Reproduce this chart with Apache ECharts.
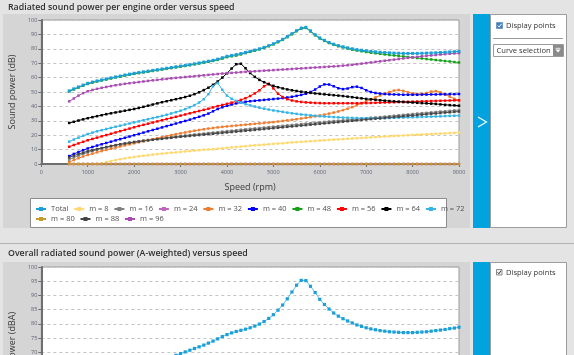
<!DOCTYPE html>
<html><head><meta charset="utf-8">
<script src="https://cdn.jsdelivr.net/npm/echarts@6/dist/echarts.min.js"></script>
<style>html,body{margin:0;padding:0;overflow:hidden;background:#e4e4e4;width:574px;height:355px}
#c{width:574px;height:480px}</style></head><body><div id="c"></div><script>
// ---------- data ----------
const chartTitle1 = 'Radiated sound power per engine order versus speed';
const chartTitle2 = 'Overall radiated sound power (A-weighted) versus speed';
const speeds = [600,700,800,900,
1000,1100,1200,1300,1400,1500,1600,1700,1800,1900,
2000,2100,2200,2300,2400,2500,2600,2700,2800,2900,
3000,3100,3200,3300,3400,3500,3600,3700,3800,3900,
4000,4100,4200,4300,4400,4500,4600,4700,4800,4900,
5000,5100,5200,5300,5400,5500,5600,5700,5800,5900,
6000,6100,6200,6300,6400,6500,6600,6700,6800,6900,
7000,7100,7200,7300,7400,7500,7600,7700,7800,7900,
8000,8100,8200,8300,8400,8500,8600,8700,8800,8900,
9000];
const seriesNames = ['Total','m = 8','m = 16','m = 24','m = 32','m = 40','m = 48','m = 56','m = 64','m = 72','m = 80','m = 88','m = 96'];
const total = [50.8,52.2,53.5,54.8,
56,56.9,57.7,58.4,59.1,59.8,60.5,61.1,61.8,62.4,
63,63.5,64,64.5,65,65.5,66,66.5,67,67.5,
68,68.5,69,69.6,70.2,70.8,71.4,72,72.8,73.8,
74.8,75.4,76,76.7,77.5,78.3,79.1,80,81,82.2,
83.5,85,86.6,88.5,90.5,92.6,94.4,94.9,92.5,89.8,
87.6,85.9,84.4,83.2,82.2,81.4,80.7,80,79.4,79,
78.6,78.2,77.9,77.6,77.4,77.2,77,76.9,76.8,76.8,
76.8,76.8,76.9,77,77.1,77.2,77.4,77.6,77.8,78,
78.2];
const m8 = [0,0,0,0,
0,0,0,0.3,1.2,2,2.7,3.3,3.9,4.4,
4.9,5.3,5.7,6.1,6.5,6.9,7.2,7.5,7.8,8.1,
8.4,8.7,9,9.3,9.6,9.9,10.1,10.3,10.6,10.9,
11.2,11.5,11.8,12.1,12.4,12.7,13,13.2,13.4,13.7,
14,14.2,14.4,14.7,15,15.2,15.4,15.6,15.8,16,
16.3,16.5,16.7,16.9,17.1,17.3,17.5,17.7,17.9,18.1,
18.3,18.5,18.7,18.9,19.1,19.3,19.5,19.6,19.8,20,
20.2,20.3,20.5,20.7,20.8,21,21.1,21.3,21.5,21.6,
21.8];
const m16 = [3,4.5,5.8,7,
8,9,9.9,10.7,11.5,12.2,12.9,13.6,14.2,14.8,
15.3,15.8,16.3,16.7,17.1,17.5,17.9,18.3,18.7,19.1,
19.4,19.8,20.1,20.5,20.8,21.1,21.5,21.8,22.1,22.5,
22.8,23.1,23.4,23.8,24.1,24.4,24.7,25,25.3,25.6,
25.9,26.2,26.5,26.8,27.1,27.4,27.7,28,28.3,28.6,
28.9,29.2,29.5,29.8,30,30.3,30.6,30.9,31.2,31.5,
31.8,32.1,32.3,32.6,32.9,33.2,33.5,33.8,34.1,34.4,
34.7,35,35.3,35.5,35.8,36.1,36.4,36.6,36.9,37.2,
37.4];
const m24 = [0,0,0,0,
0,0,0,0,0,0,0,0,0,0,
0,0,0,0,0,0,0,0,0,0,
0,0,0,0,0,0,0,0,0,0,
0,0,0,0,0,0,0,0,0,0,
0,0,0,0,0,0,0,0,0,0,
0,0,0,0,0,0,0,0,0,0,
0,0,0,0,0,0,0,0,0,0,
0,0,0,0,0,0,0,0,0,0,
0];
const m32 = [1.2,2.8,4,5.2,
6.3,7.2,8.1,9,9.8,10.6,11.4,12.2,12.9,13.7,
14.4,15.1,15.8,16.5,17.2,17.9,18.6,19.3,20,20.7,
21.3,21.9,22.5,23.1,23.6,24.1,24.6,25,25.4,25.8,
26.1,26.4,26.7,27,27.3,27.6,27.9,28.2,28.5,28.8,
29.1,29.5,29.9,30.3,30.7,31.1,31.6,32.1,32.6,33.1,
33.7,34.3,35,35.7,36.5,37.4,38.4,39.5,40.8,42.2,
43.6,45,46.3,47.6,48.8,50,51,51.4,50.8,49.8,
49,48.6,48.7,49.3,50.3,50.6,49.8,48.3,46.8,45.3,
44];
const m40 = [5.5,7,8.3,9.6,
10.8,11.8,12.8,13.7,14.6,15.5,16.4,17.3,18.2,19.1,
20,20.9,21.8,22.7,23.6,24.5,25.4,26.3,27.2,28.1,
29,29.9,30.8,31.8,32.8,33.8,35,36.6,38.2,39.4,
40.4,41.3,42.1,42.7,43.2,43.6,43.9,44.2,44.5,44.8,
45.1,45.4,45.8,46.2,46.7,47.3,48,48.8,50,51.7,
53.8,55.3,55.2,54,52.6,52,52.4,53.4,53.7,52.8,
51.2,50,49.3,48.9,48.6,48.4,48.3,48.2,48.1,48.1,
48.1,48.1,48.2,48.2,48.3,48.3,48.4,48.4,48.5,48.5,
48.6];
const m48 = [50.4,51.8,53.1,54.4,
55.6,56.5,57.3,58,58.7,59.4,60.1,60.7,61.4,62,
62.6,63.1,63.6,64.1,64.6,65.1,65.6,66.1,66.6,67.1,
67.6,68.1,68.6,69.2,69.8,70.4,71,71.6,72.3,73.2,
74.2,74.8,75.3,76.1,77,77.9,78.7,79.6,80.6,81.8,
83.1,84.6,86.2,88.1,90.1,92.2,94,94.5,92.1,89.4,
87.2,85.5,84,82.8,81.8,81,80.2,79.4,78.8,78.3,
77.8,77.3,76.9,76.5,76.1,75.7,75.4,75,74.7,74.3,
74,73.6,73.3,72.9,72.6,72.2,71.9,71.5,71.2,70.8,
70.5];
const m56 = [12,13.2,14.3,15.4,
16.5,17.4,18.3,19.2,20.1,21,21.9,22.8,23.7,24.6,
25.5,26.4,27.2,28,28.8,29.6,30.4,31.2,32,32.8,
33.6,34.4,35.2,36,36.8,37.6,38.4,39.3,40.2,41,
41.8,42.6,43.5,44.5,45.7,47.2,49,51.2,54,55.7,
52.5,48.8,46.5,45,44.1,43.5,43.1,42.8,42.6,42.4,
42.3,42.2,42.2,42.2,42.2,42.2,42.2,42.2,42.2,42.3,
42.3,42.4,42.5,42.6,42.7,42.8,42.9,43,43.1,43.2,
43.3,43.4,43.5,43.6,43.7,43.8,43.9,44,44.1,44.2,
44.3];
const m64 = [28.5,29.3,30.2,31,
31.8,32.5,33.2,33.9,34.6,35.2,35.8,36.4,37,37.6,
38.2,38.9,39.7,40.5,41.3,42.1,42.9,43.6,44.3,45,
45.7,46.5,47.4,48.5,49.8,51.3,53,55,57.3,60,
63,66.3,69.3,69.6,66.5,63.2,60.5,58.4,56.8,55.4,
54.3,53.3,52.5,51.8,51.2,50.7,50.2,49.8,49.4,49,
48.7,48.4,48.1,47.8,47.5,47.2,46.8,46.4,46,45.6,
45.2,44.9,44.6,44.3,44,43.7,43.5,43.3,43.1,42.9,
42.7,42.5,42.3,42.1,41.9,41.7,41.4,41.1,40.9,40.7,
40.5];
const m72 = [15.5,17,18.3,19.6,
20.8,21.8,22.7,23.5,24.3,25.1,25.9,26.6,27.4,28.1,
28.9,29.6,30.4,31.1,31.9,32.6,33.4,34.2,35.1,36,
37,38.1,39.4,40.9,42.7,45,48.5,54,56.3,51.5,
47.5,45.3,43.8,42.6,41.6,40.7,39.9,39.1,38.4,37.8,
37.2,36.7,36.2,35.7,35.2,34.8,34.4,34.1,33.8,33.5,
33.2,33,32.8,32.6,32.4,32.2,32.1,32,31.9,31.8,
31.8,31.8,31.8,31.8,31.9,32,32.1,32.2,32.3,32.4,
32.5,32.6,32.7,32.8,32.9,33,33.1,33.3,33.4,33.5,
33.6];
const m80 = [0,0,0,0,
0,0,0,0,0,0,0,0,0,0,
0,0,0,0,0,0,0,0,0,0,
0,0,0,0,0,0,0,0,0,0,
0,0,0,0,0,0,0,0,0,0,
0,0,0,0,0,0,0,0,0,0,
0,0,0,0,0,0,0,0,0,0,
0,0,0,0,0,0,0,0,0,0,
0,0,0,0,0,0,0,0,0,0,
0];
const m88 = [4.5,5.8,6.9,7.9,
8.8,9.6,10.4,11.1,11.8,12.5,13.1,13.7,14.2,14.7,
15.2,15.6,16,16.4,16.8,17.2,17.5,17.9,18.2,18.6,
18.9,19.2,19.5,19.8,20.1,20.4,20.7,21,21.3,21.6,
21.9,22.2,22.5,22.8,23.1,23.4,23.7,24,24.3,24.6,
24.9,25.2,25.5,25.8,26.1,26.4,26.7,27,27.3,27.6,
27.9,28.2,28.5,28.8,29.1,29.4,29.7,30,30.3,30.6,
30.9,31.2,31.5,31.7,32,32.3,32.6,32.9,33.2,33.5,
33.7,34,34.3,34.6,34.9,35.1,35.4,35.7,35.9,36.2,
36.4];
const m96 = [43.5,45.5,47.5,49.2,
50.5,51.4,52.2,52.9,53.5,54.1,54.7,55.2,55.7,56.1,
56.5,56.9,57.3,57.7,58.1,58.4,58.8,59.1,59.5,59.8,
60.1,60.4,60.7,61,61.3,61.6,61.9,62.2,62.5,62.8,
63.1,63.3,63.5,63.8,64,64.2,64.4,64.6,64.8,65,
65.2,65.4,65.6,65.8,66,66.2,66.4,66.6,66.8,67,
67.2,67.4,67.6,67.8,68,68.3,68.6,68.9,69.3,69.7,
70.1,70.5,70.9,71.3,71.7,72.1,72.5,72.9,73.3,73.7,
74.1,74.4,74.8,75.1,75.4,75.7,76,76.3,76.6,76.8,
77];
const totalAWeighted = [50,51.5,53,54.3,
55.5,56.6,57.6,58.5,59.3,60.1,60.8,61.5,62.2,62.8,
63.4,64,64.6,65.2,65.8,66.4,67,67.6,68.2,68.9,
69.5,70.1,70.7,71.3,71.9,72.5,73.2,73.9,74.7,75.5,
76.2,76.8,77.3,77.7,78.1,78.6,79.2,79.9,80.8,81.9,
83.2,84.8,86.6,88.8,91.2,93.6,95.3,95.2,93.2,91,
88.6,86.8,85.2,83.8,82.7,81.8,81,80.3,79.6,79.1,
78.6,78.2,77.9,77.6,77.4,77.2,77.1,77,76.9,76.9,
76.9,77,77.1,77.2,77.4,77.6,77.8,78,78.3,78.5,
78.8];
const orderData = [total,m8,m16,m24,m32,m40,m48,m56,m64,m72,m80,m88,m96];
const orderColors = ['#1b9fd6','#ffd870','#808080','#c064c0','#ed7d31','#0000ff','#16a016','#ff0000','#000000','#35b4e6','#c89a2a','#454545','#a94db3'];

// ---------- chart ----------
const FONT = '"Open Sans", "Noto Sans", sans-serif';
const chart = echarts.init(document.getElementById('c'), null, {renderer:'canvas', width:574, height:480});

const pair = arr => speeds.map((s, i) => [s, arr[i]]);

const series = orderData.map((arr, k) => ({
  name: seriesNames[k], type: 'line', xAxisIndex: 0, yAxisIndex: 0,
  data: pair(arr), symbol: 'rect', symbolSize: k === 0 ? 3 : 2.5,
  z: k === 0 ? 5 : 2,
  lineStyle: {width: 1, color: orderColors[k]},
  itemStyle: {color: orderColors[k]},
  emphasis: {disabled: true}, silent: true
}));
series.push({
  name: 'Total (A)', type: 'line', xAxisIndex: 1, yAxisIndex: 1,
  data: pair(totalAWeighted), symbol: 'rect', symbolSize: 3.2,
  lineStyle: {width: 1, color: '#5cc0e6'}, itemStyle: {color: '#1b9fd6'},
  emphasis: {disabled: true}, silent: true
});

const axisLabel = {fontSize: 5.5, color: '#5a6272', fontFamily: FONT, formatter: v => String(v)};
const split = {show: true, lineStyle: {color: '#c4c4c4', type: [3, 3], width: 1}};
const axLine = {show: true, lineStyle: {color: '#6e6e6e', width: 2}};
const tick = {show: true, length: 3, lineStyle: {color: '#6e6e6e'}};
const nameStyle = {fontSize: 9, color: '#3a3a3a', fontFamily: FONT};

const legendCommon = {
  left: 35, itemWidth: 10, itemHeight: 5, itemGap: 4.8, padding: 0,
  textStyle: {fontSize: 7.5, color: '#505050', width: 22, fontFamily: FONT},
  selectedMode: false, orient: 'horizontal'
};

const txt = (x, y, s, extra) => Object.assign({type: 'text', x: x, y: y, z: 10,
  style: Object.assign({text: s, fill: '#333', font: '7.6px ' + FONT, textVerticalAlign: 'middle'}, extra || {})});

const graphics = [
  // panel 1
  {type: 'rect', z: -100, shape: {x: 3, y: 14, width: 467, height: 214}, style: {fill: '#d5d5d5'}},
  {type: 'rect', z: -100, shape: {x: 473, y: 14, width: 17, height: 214}, style: {fill: '#00a3de'}},
  {type: 'rect', z: -100, shape: {x: 490.5, y: 14.5, width: 76, height: 213}, style: {fill: '#fff', stroke: '#9c9c9c', lineWidth: 1}},
  {type: 'polyline', z: 10, shape: {points: [[478, 117], [486.5, 122], [478, 127]]}, style: {stroke: '#fff', lineWidth: 1.2, fill: null}},
  // legend box
  {type: 'rect', z: -99, shape: {x: 30.5, y: 198.5, width: 416, height: 29}, style: {fill: '#fff', stroke: '#8c8c8c', lineWidth: 1}},
  // side panel 1 controls
  {type: 'rect', z: 10, shape: {x: 496.5, y: 22.5, width: 6, height: 6}, style: {fill: '#3b82c8', stroke: '#6a8fb5', lineWidth: 0.8}},
  {type: 'polyline', z: 11, shape: {points: [[497.8, 25.6], [499.2, 27], [501.5, 23.8]]}, style: {stroke: '#fff', lineWidth: 1, fill: null}},
  txt(506, 25.7, 'Display points'),
  {type: 'line', z: 10, shape: {x1: 493, y1: 38.5, x2: 563, y2: 38.5}, style: {stroke: '#9a9a9a', lineWidth: 1}},
  {type: 'rect', z: 10, shape: {x: 493.5, y: 44.5, width: 70, height: 12}, style: {fill: '#fff', stroke: '#9a9a9a', lineWidth: 1}},
  {type: 'rect', z: 11, shape: {x: 553, y: 45, width: 10, height: 11}, style: {fill: '#8a8a8a'}},
  {type: 'polygon', z: 12, shape: {points: [[555.5, 49.5], [560.5, 49.5], [558, 52.5]]}, style: {fill: '#fff'}},
  {type: 'line', z: 12, shape: {x1: 555.5, y1: 48.3, x2: 560.5, y2: 48.3}, style: {stroke: '#fff', lineWidth: 0.8}},
  txt(496.5, 50.7, 'Curve selection'),
  // titles
  txt(8, 7.5, chartTitle1, {font: '600 8.8px ' + FONT, fill: '#303030'}),
  {type: 'line', z: -98, shape: {x1: 0, y1: 243.5, x2: 574, y2: 243.5}, style: {stroke: '#b4b4b4', lineWidth: 1}},
  txt(8, 253.5, chartTitle2, {font: '600 8.8px ' + FONT, fill: '#303030'}),
  // panel 2
  {type: 'rect', z: -100, shape: {x: 3, y: 262, width: 467, height: 230}, style: {fill: '#d5d5d5'}},
  {type: 'rect', z: -100, shape: {x: 473, y: 262, width: 17, height: 230}, style: {fill: '#00a3de'}},
  {type: 'rect', z: -100, shape: {x: 490.5, y: 262.5, width: 76, height: 230}, style: {fill: '#fff', stroke: '#9c9c9c', lineWidth: 1}},
  {type: 'rect', z: 10, shape: {x: 496.5, y: 269.5, width: 5.5, height: 5.5}, style: {fill: '#f2f2f2', stroke: '#707070', lineWidth: 0.8}},
  {type: 'polyline', z: 11, shape: {points: [[497.6, 272.3], [498.9, 273.8], [501, 270.6]]}, style: {stroke: '#222', lineWidth: 0.9, fill: null}},
  txt(506, 272.7, 'Display points')
];

const option = {
  animation: false,
  backgroundColor: '#e4e4e4',
  textStyle: {fontFamily: FONT},
  tooltip: {show: false},
  graphic: {elements: graphics},
  legend: [
    Object.assign({}, legendCommon, {top: 205, data: seriesNames.slice(0, 10)}),
    Object.assign({}, legendCommon, {top: 215, data: seriesNames.slice(10)})
  ],
  grid: [
    {left: 37, top: 20, width: 422, height: 144, show: true, backgroundColor: '#fff', borderColor: '#9a9a9a', borderWidth: 1},
    {left: 37, top: 267, width: 422, height: 170.4, show: true, backgroundColor: '#fff', borderColor: '#9a9a9a', borderWidth: 1}
  ],
  xAxis: [
    {gridIndex: 0, type: 'value', min: 0, max: 9000, interval: 1000, name: 'Speed (rpm)', nameLocation: 'middle', nameGap: 19,
      nameTextStyle: nameStyle, axisLine: axLine, axisTick: tick, axisLabel: Object.assign({margin: 5}, axisLabel), splitLine: {show: false}},
    {gridIndex: 1, type: 'value', min: 0, max: 9000, interval: 1000, name: 'Speed (rpm)', nameLocation: 'middle', nameGap: 19,
      nameTextStyle: nameStyle, axisLine: axLine, axisTick: tick, axisLabel: Object.assign({margin: 5}, axisLabel), splitLine: {show: false}}
  ],
  yAxis: [
    {gridIndex: 0, type: 'value', min: 0, max: 100, interval: 10, name: 'Sound power (dB)', nameLocation: 'middle', nameGap: 16,
      nameTextStyle: nameStyle, axisLine: axLine, axisTick: tick, axisLabel: Object.assign({margin: 4}, axisLabel), splitLine: split},
    {gridIndex: 1, type: 'value', min: 40, max: 100, interval: 5, name: 'Sound power (dBA)', nameLocation: 'middle', nameGap: 16,
      nameTextStyle: nameStyle, axisLine: axLine, axisTick: tick, axisLabel: Object.assign({margin: 4}, axisLabel), splitLine: split}
  ],
  series: series
};
chart.setOption(option);
</script></body></html>
